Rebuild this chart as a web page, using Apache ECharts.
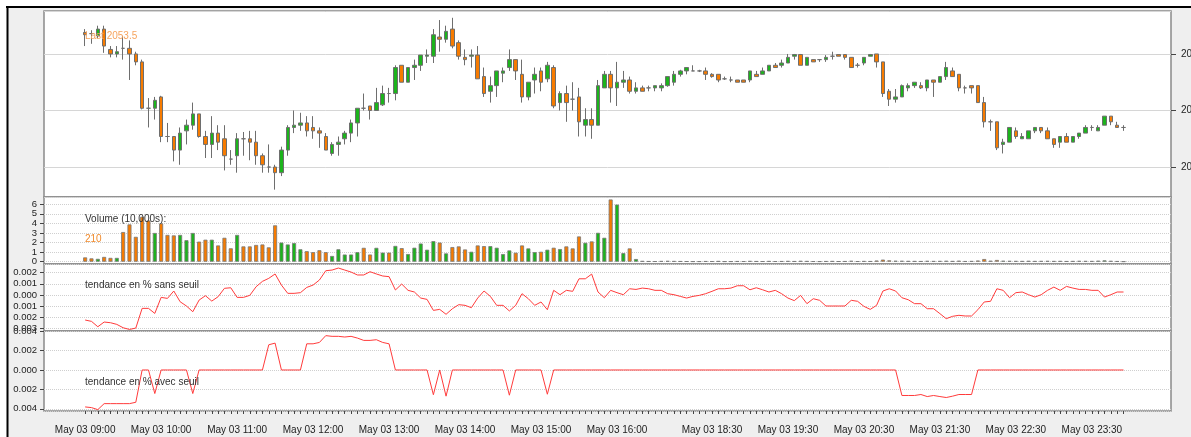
<!DOCTYPE html>
<html lang="fr">
<head>
    <meta charset="UTF-8">
    <title>chart</title>
    <script type="text/javascript" src="https://cdn.jsdelivr.net/npm/echarts@6/dist/echarts.min.js"></script>
    <style>
        html, body { margin: 0; padding: 0; background: #fff; }
        #main { width: 1191px; height: 437px; }
    </style>
</head>
<body>
<div id="main"></div>
<script type="text/javascript">
    // séances : [début, nombre de barres de 5 minutes]
    const sessions = [['09:00', 88], ['17:35', 77]];

    const tickLabels = ['May 03 09:00', 'May 03 10:00', 'May 03 11:00', 'May 03 12:00', 'May 03 13:00',
        'May 03 14:00', 'May 03 15:00', 'May 03 16:00', 'May 03 18:30', 'May 03 19:30',
        'May 03 20:30', 'May 03 21:30', 'May 03 22:30', 'May 03 23:30'];

    // [open, close, low, high]
    const candles = [
        [2061.9, 2061.7, 2060.7, 2062.2], [2061.8, 2061.8, 2060.9, 2062.1], [2061.6, 2062.2, 2061.4, 2062.5], [2062.2, 2060.7, 2060.1, 2062.5], [2060.4, 2060.0, 2059.7, 2060.7],
        [2060.0, 2060.2, 2059.7, 2060.7], [2060.5, 2060.5, 2059.5, 2061.6], [2060.5, 2060.0, 2057.7, 2061.2], [2060.0, 2059.3, 2059.0, 2060.2], [2059.3, 2055.2, 2055.1, 2059.5],
        [2055.2, 2055.2, 2053.5, 2056.1], [2055.2, 2055.9, 2054.2, 2056.2], [2056.2, 2052.7, 2052.2, 2056.3], [2052.7, 2052.7, 2052.2, 2053.9], [2052.7, 2051.5, 2050.5, 2052.7],
        [2051.5, 2053.0, 2050.2, 2053.5], [2053.2, 2053.7, 2052.0, 2054.2], [2053.7, 2054.7, 2053.3, 2055.7], [2054.7, 2052.7, 2052.6, 2054.7], [2052.7, 2052.0, 2050.8, 2053.2],
        [2052.0, 2053.0, 2050.8, 2054.5], [2053.0, 2052.2, 2051.5, 2053.7], [2052.5, 2051.0, 2049.7, 2053.7], [2050.7, 2050.7, 2050.2, 2051.5], [2051.0, 2052.5, 2049.5, 2053.0],
        [2052.5, 2052.5, 2051.0, 2053.1], [2052.5, 2052.2, 2050.6, 2053.2], [2052.2, 2051.0, 2050.2, 2053.2], [2051.0, 2050.2, 2049.5, 2051.2], [2050.0, 2050.0, 2049.5, 2052.0],
        [2050.0, 2049.5, 2048.0, 2050.2], [2049.5, 2051.5, 2049.2, 2051.8], [2051.5, 2053.5, 2051.0, 2053.7], [2053.5, 2053.7, 2053.0, 2055.0], [2053.7, 2053.9, 2053.2, 2054.8],
        [2053.9, 2053.2, 2052.7, 2054.5], [2053.5, 2053.2, 2052.5, 2054.5], [2053.2, 2053.0, 2051.7, 2053.5], [2052.7, 2051.5, 2051.5, 2053.0], [2051.2, 2052.0, 2051.0, 2052.2],
        [2052.0, 2052.2, 2051.0, 2052.7], [2052.5, 2053.0, 2052.0, 2053.2], [2053.0, 2053.9, 2052.2, 2054.2], [2053.9, 2055.2, 2052.7, 2055.2], [2055.2, 2055.2, 2055.0, 2056.5],
        [2055.4, 2055.0, 2054.2, 2055.4], [2055.0, 2055.7, 2055.0, 2057.0], [2055.5, 2056.5, 2055.4, 2057.2], [2056.5, 2056.5, 2055.7, 2057.0], [2056.5, 2058.8, 2055.9, 2059.0],
        [2059.0, 2057.5, 2057.5, 2059.0], [2057.5, 2058.8, 2057.5, 2058.8], [2058.8, 2059.0, 2057.7, 2059.5], [2059.0, 2059.9, 2058.5, 2059.9], [2059.8, 2059.9, 2059.2, 2060.4],
        [2059.8, 2061.7, 2059.2, 2062.2], [2061.5, 2061.3, 2060.2, 2063.0], [2061.3, 2062.0, 2061.0, 2062.5], [2062.2, 2060.7, 2060.5, 2063.2], [2061.0, 2059.8, 2059.5, 2061.2],
        [2059.7, 2059.5, 2059.0, 2060.4], [2059.8, 2059.9, 2058.8, 2060.4], [2059.9, 2057.8, 2057.8, 2060.7], [2058.0, 2056.5, 2056.2, 2058.8], [2056.7, 2057.2, 2055.7, 2058.0],
        [2057.2, 2058.5, 2056.2, 2058.5], [2058.3, 2058.5, 2057.5, 2058.8], [2058.8, 2059.5, 2058.5, 2060.4], [2059.5, 2058.5, 2057.7, 2059.5], [2058.2, 2056.2, 2055.7, 2059.5],
        [2056.2, 2057.5, 2055.9, 2057.5], [2057.7, 2058.2, 2056.5, 2058.8], [2058.5, 2057.5, 2056.7, 2058.8], [2057.8, 2059.0, 2057.5, 2059.3], [2058.8, 2055.4, 2055.2, 2059.0],
        [2055.7, 2056.5, 2055.0, 2056.7], [2056.5, 2055.7, 2054.0, 2057.2], [2056.0, 2056.0, 2055.0, 2057.5], [2056.2, 2054.0, 2052.7, 2057.0], [2053.7, 2054.2, 2052.7, 2055.2],
        [2054.2, 2053.7, 2052.5, 2055.2], [2053.7, 2057.2, 2053.7, 2057.7], [2057.0, 2058.2, 2057.0, 2058.5], [2058.2, 2057.0, 2055.7, 2058.5], [2057.0, 2057.5, 2055.4, 2059.3],
        [2057.5, 2057.7, 2057.0, 2058.5], [2057.7, 2056.7, 2056.5, 2058.0], [2056.7, 2057.0, 2056.5, 2057.5], [2057.0, 2056.7, 2056.7, 2057.2], [2057.0, 2057.0, 2056.7, 2057.2],
        [2057.0, 2057.2, 2056.7, 2057.2], [2057.0, 2057.2, 2056.7, 2057.4], [2057.2, 2058.0, 2057.1, 2058.0], [2057.5, 2058.2, 2057.2, 2058.5], [2058.2, 2058.5, 2058.0, 2058.6],
        [2058.5, 2058.8, 2058.2, 2058.8], [2058.5, 2058.5, 2058.5, 2059.0], [2058.5, 2058.5, 2058.4, 2058.6], [2058.5, 2058.2, 2057.7, 2058.8], [2058.2, 2058.0, 2057.9, 2058.3],
        [2058.2, 2057.7, 2057.5, 2058.2], [2057.8, 2057.8, 2057.7, 2058.0], [2057.7, 2057.7, 2057.5, 2058.0], [2057.7, 2057.5, 2057.5, 2057.7], [2057.7, 2057.5, 2057.5, 2057.7],
        [2057.7, 2058.5, 2057.5, 2058.5], [2058.2, 2058.0, 2058.0, 2058.5], [2058.2, 2058.5, 2058.2, 2058.8], [2058.5, 2059.0, 2058.5, 2059.0], [2059.0, 2058.8, 2058.8, 2059.2],
        [2059.0, 2059.2, 2058.8, 2059.5], [2059.2, 2059.7, 2059.2, 2060.0], [2059.8, 2059.95, 2059.5, 2060.0], [2059.95, 2059.0, 2059.0, 2060.0], [2059.0, 2059.7, 2059.0, 2059.7],
        [2059.5, 2059.3, 2059.3, 2059.5], [2059.5, 2059.5, 2059.3, 2059.5], [2059.5, 2059.7, 2059.3, 2059.9], [2059.8, 2059.8, 2059.5, 2060.2], [2059.95, 2059.8, 2059.8, 2059.95],
        [2059.95, 2059.7, 2059.5, 2059.95], [2059.7, 2058.8, 2058.8, 2059.7], [2059.0, 2059.0, 2058.8, 2059.2], [2059.2, 2059.7, 2059.0, 2059.7], [2059.8, 2059.95, 2059.8, 2060.0],
        [2060.0, 2059.3, 2058.8, 2060.0], [2059.3, 2056.5, 2056.2, 2059.3], [2056.7, 2056.0, 2055.4, 2056.9], [2056.0, 2056.2, 2055.7, 2056.9], [2056.2, 2057.2, 2056.2, 2057.3],
        [2057.0, 2057.2, 2056.7, 2057.4], [2057.2, 2057.5, 2057.0, 2057.5], [2057.2, 2057.0, 2056.9, 2057.5], [2057.0, 2057.7, 2056.7, 2057.7], [2057.7, 2057.5, 2056.2, 2057.7],
        [2057.5, 2058.0, 2057.5, 2058.0], [2058.0, 2058.8, 2057.7, 2059.3], [2058.5, 2058.0, 2058.0, 2058.8], [2058.2, 2057.0, 2056.7, 2058.2], [2057.0, 2057.0, 2056.5, 2057.2],
        [2057.2, 2057.0, 2056.5, 2057.2], [2057.2, 2055.7, 2055.7, 2057.2], [2055.7, 2054.0, 2053.5, 2056.2], [2054.0, 2054.0, 2053.2, 2054.2], [2054.0, 2051.7, 2051.5, 2054.0],
        [2052.0, 2052.2, 2051.2, 2052.5], [2052.2, 2053.5, 2052.2, 2053.5], [2053.2, 2052.7, 2052.5, 2053.5], [2052.5, 2052.7, 2052.5, 2053.0], [2052.5, 2053.2, 2052.5, 2053.2],
        [2053.2, 2053.5, 2053.0, 2053.5], [2053.5, 2053.2, 2053.0, 2053.5], [2053.2, 2052.5, 2052.5, 2053.5], [2052.5, 2052.0, 2051.7, 2052.5], [2052.2, 2052.7, 2051.7, 2052.7],
        [2052.7, 2052.2, 2052.2, 2053.0], [2052.2, 2052.7, 2052.2, 2052.7], [2052.7, 2053.0, 2052.5, 2053.0], [2053.0, 2053.5, 2053.0, 2053.7], [2053.5, 2053.5, 2053.2, 2053.7],
        [2053.2, 2053.5, 2053.2, 2053.7], [2053.7, 2054.5, 2053.7, 2054.5], [2054.5, 2054.0, 2053.7, 2054.5], [2053.7, 2053.5, 2053.5, 2054.0], [2053.5, 2053.5, 2053.2, 2053.7]
    ];

    // volume en 10 000
    const volume = [
        0.45, 0.35, 0.3, 0.5, 0.4, 0.4, 3.1, 3.9, 2.6, 4.7,
        4.3, 3.0, 4.0, 2.8, 2.75, 2.8, 2.25, 3.0, 2.1, 2.3,
        2.3, 1.7, 2.5, 1.4, 2.8, 1.6, 1.6, 1.75, 1.8, 1.5,
        3.8, 2.0, 1.8, 1.95, 1.3, 1.1, 1.0, 1.2, 1.0, 0.6,
        1.3, 0.75, 0.75, 1.0, 1.45, 0.75, 1.45, 0.95, 0.95, 1.65,
        1.42, 0.8, 1.46, 1.9, 1.25, 2.15, 2.0, 0.87, 1.53, 1.6,
        1.28, 1.04, 1.7, 1.63, 1.63, 1.46, 0.8, 1.18, 0.94, 1.7,
        1.39, 1.0, 1.04, 1.25, 1.46, 1.32, 1.6, 1.39, 2.64, 1.98,
        2.12, 3.02, 2.5, 6.5, 5.97, 0.9, 1.39, 0.28, 0.07, 0.05,
        0.04, 0.06, 0.08, 0.06, 0.05, 0.04, 0.03, 0.03, 0.05, 0.04,
        0.06, 0.03, 0.03, 0.05, 0.04, 0.07, 0.05, 0.04, 0.06, 0.04,
        0.05, 0.07, 0.05, 0.08, 0.06, 0.04, 0.03, 0.05, 0.06, 0.04,
        0.05, 0.09, 0.04, 0.06, 0.05, 0.12, 0.22, 0.14, 0.1, 0.09,
        0.07, 0.06, 0.05, 0.08, 0.06, 0.07, 0.09, 0.06, 0.1, 0.05,
        0.06, 0.12, 0.28, 0.1, 0.18, 0.1, 0.08, 0.07, 0.06, 0.08,
        0.06, 0.07, 0.08, 0.06, 0.07, 0.05, 0.06, 0.08, 0.07, 0.06,
        0.1, 0.14, 0.08, 0.05, 0.021
    ];

    const trendSansSeuil = [
        -0.00223, -0.00235, -0.00283, -0.00241, -0.00247, -0.00262, -0.00292, -0.00307, -0.00295, -0.00119,
        -0.00119, -0.00164, -0.00021, -0.0003, 0.00036, -0.0006, -0.00098, -0.00149, -0.00045, -0.00006,
        -0.00054, -0.00015, 0.0006, 0.00065, -0.00021, -0.00021, -0.00003, 0.00074, 0.00122, 0.00149,
        0.00188, 0.00089, 0.00015, 0.00015, 0.00021, 0.00068, 0.00089, 0.00134, 0.00217, 0.00223,
        0.00241, 0.00223, 0.00205, 0.00179, 0.00179, 0.00208, 0.00188, 0.0017, 0.00164, 0.00045,
        0.00098, 0.00042, 0.00027, -0.00027, -0.00039, -0.00137, -0.00128, -0.00172, -0.00122, -0.00086,
        -0.00092, -0.00113, -0.00027, 0.00036, -0.00012, -0.00092, -0.00092, -0.00142, -0.00092, 0.00012,
        -0.00033, -0.00092, -0.00062, -0.00131, 0.00042, 0.00003, 0.00042, 0.00033, 0.00145, 0.00145,
        0.00187, 0.00027, -0.00024, 0.00042, 0.00021, 0.00003, 0.00056, 0.0005, 0.00062, 0.00056,
        0.00042, 0.00042, 0.00012, 0.00003, -0.00012, -0.00027, -0.00012, -0.00003, 0.00012, 0.00033,
        0.00056, 0.00056, 0.00062, 0.00083, 0.00083, 0.00047, 0.00065, 0.00047, 0.00027, 0.00042,
        0.00012, -0.00027, -0.0005, -0.00003, -0.00077, -0.00033, -0.00047, -0.00098, -0.00098, -0.00098,
        -0.00098, -0.00047, -0.00056, -0.00101, -0.00128, -0.00092, 0.00036, 0.00056, 0.00036, -0.00024,
        -0.00042, -0.00077, -0.00077, -0.00122, -0.00122, -0.00166, -0.00211, -0.0019, -0.00181, -0.00187,
        -0.00187, -0.00131, -0.00062, -0.00056, 0.00056, 0.00042, -0.00024, 0.00021, 0.00027, 0.00003,
        -0.00018, 0.00003, 0.00042, 0.00071, 0.00042, 0.00077, 0.00062, 0.0005, 0.0005, 0.00042,
        0.00042, -0.00018, 0.00003, 0.00027, 0.00027
    ];

    const trendAvecSeuil = [
        -0.00381, -0.00388, -0.00409, -0.00347, -0.00347, -0.00347, -0.00347, -0.00347, -0.00333, 0,
        0, -0.00243, 0, 0, 0, 0, 0, -0.00243, 0, 0,
        0, 0, 0, 0, 0, 0, 0, 0, 0, 0.0026,
        0.00277, 0, 0, 0, 0, 0.0027, 0.0027, 0.00284, 0.00354, 0.00347,
        0.00347, 0.0034, 0.00347, 0.00329, 0.00305, 0.00305, 0.00312, 0.00284, 0.0027, 0,
        0, 0, 0, 0, 0, -0.00255, 0, -0.0027, 0, 0,
        0, 0, 0, 0, 0, 0, 0, -0.0026, 0, 0,
        0, 0, 0, -0.0025, 0, 0, 0, 0, 0, 0,
        0, 0, 0, 0, 0, 0, 0, 0, 0, 0,
        0, 0, 0, 0, 0, 0, 0, 0, 0, 0,
        0, 0, 0, 0, 0, 0, 0, 0, 0, 0,
        0, 0, 0, 0, 0, 0, 0, 0, 0, 0,
        0, 0, 0, 0, 0, 0, 0, 0, 0, -0.00263,
        -0.00263, -0.00263, -0.00253, -0.00274, -0.00263, -0.00274, -0.00284, -0.0027, -0.00253, -0.00253,
        -0.00253, 0, 0, 0, 0, 0, 0, 0, 0, 0,
        0, 0, 0, 0, 0, 0, 0, 0, 0, 0,
        0, 0, 0, 0, 0
    ];

    const UP = '#1cb41c';
    const DOWN = '#f77b00';
    const PAD_LEFT = 6;
    const PAD_RIGHT = 7;

    function buildTimes() {
        let out = [];
        sessions.forEach(function (s) {
            let parts = s[0].split(':');
            let m = +parts[0] * 60 + +parts[1];
            for (let k = 0; k < s[1]; k++, m += 5) {
                out.push('May 03 ' + String(Math.floor(m / 60)).padStart(2, '0') + ':' + String(m % 60).padStart(2, '0'));
            }
        });
        return out;
    }

    const times = buildTimes();
    const xData = new Array(PAD_LEFT).fill('').concat(times, new Array(PAD_RIGHT).fill(''));

    function xAxisFor(grid, withLabels) {
        return {
            type: 'category',
            gridIndex: grid,
            position: 'bottom',
            data: xData,
            axisLine: {show: false, onZero: false},
            axisTick: {
                show: withLabels,
                alignWithLabel: true,
                length: 3,
                interval: (idx, val) => val !== '',
                lineStyle: {color: '#444'}
            },
            axisLabel: {
                show: withLabels,
                interval: (idx, val) => tickLabels.indexOf(val) >= 0,
                fontSize: 10,
                color: '#222',
                margin: 14
            },
            splitLine: {show: false}
        };
    }

    function leftAxis(grid, min, max, split, fmt) {
        return {
            type: 'value',
            gridIndex: grid,
            min: min,
            max: max,
            splitNumber: split,
            axisLine: {show: false, onZero: false},
            axisTick: {show: true, length: 4, lineStyle: {color: '#444'}},
            axisLabel: {
                fontSize: 9.5,
                color: '#222',
                margin: 7,
                showMinLabel: false,
                showMaxLabel: false,
                formatter: fmt
            },
            splitLine: {lineStyle: {color: '#cfcfcf', type: 'dotted'}}
        };
    }

    const gridBase = {
        left: 44, right: 20, show: true, backgroundColor: '#fff',
        borderColor: '#8a8a8a', borderWidth: 1.5, outerBoundsMode: 'none', containLabel: false
    };
    const absFmt = v => Math.abs(v).toFixed(3);
    const last = candles.length - 1;

    let option = {
        animation: false,
        backgroundColor: '#efefef',
        textStyle: {fontFamily: 'Liberation Sans, Arial, sans-serif'},
        grid: [
            Object.assign({top: 11, height: 186}, gridBase),
            Object.assign({top: 197, height: 67}, gridBase),
            Object.assign({top: 264, height: 67}, gridBase),
            Object.assign({top: 331, height: 80}, gridBase)
        ],
        xAxis: [xAxisFor(0, false), xAxisFor(1, false), xAxisFor(2, false), xAxisFor(3, true)],
        yAxis: [
            {
                type: 'value',
                gridIndex: 0,
                position: 'right',
                min: 2047.35,
                max: 2063.8,
                splitNumber: 3,
                axisLine: {show: false, onZero: false},
                axisTick: {show: true, length: 5, lineStyle: {color: '#444'}},
                axisLabel: {
                    fontSize: 10, color: '#222', margin: 10,
                    showMinLabel: false, showMaxLabel: false,
                    formatter: v => String(v)
                },
                splitLine: {lineStyle: {color: '#d6d6d6'}}
            },
            leftAxis(1, -0.24, 6.76, 7, v => String(v)),
            leftAxis(2, -0.00321, 0.00277, 6, absFmt),
            leftAxis(3, -0.00423, 0.00402, 4, absFmt)
        ],
        graphic: [
            {type: 'rect', shape: {x: 0, y: 0, width: 1191, height: 6}, style: {fill: '#fff'}},
            {type: 'rect', shape: {x: 0, y: 0, width: 7, height: 437}, style: {fill: '#fff'}},
            {type: 'line', shape: {x1: 6, y1: 7, x2: 1191, y2: 7}, style: {stroke: '#000', lineWidth: 2}},
            {type: 'line', shape: {x1: 7.5, y1: 6, x2: 7.5, y2: 437}, style: {stroke: '#000', lineWidth: 2}},
            {type: 'text', x: 85, y: 36, z: 100, style: {text: 'Last ' + candles[last][1], fill: '#f6a45e', fontSize: 10, verticalAlign: 'middle'}},
            {type: 'text', x: 85, y: 219, z: 100, style: {text: 'Volume (10,000s):', fill: '#333', fontSize: 10, verticalAlign: 'middle'}},
            {type: 'text', x: 85, y: 239.5, z: 100, style: {text: String(Math.round(volume[last] * 10000)), fill: '#f08a2c', fontSize: 10, verticalAlign: 'middle'}},
            {type: 'text', x: 85, y: 285.5, z: 100, style: {text: 'tendance en % sans seuil', fill: '#333', fontSize: 10, verticalAlign: 'middle'}},
            {type: 'text', x: 85, y: 382.5, z: 100, style: {text: 'tendance en % avec seuil', fill: '#333', fontSize: 10, verticalAlign: 'middle'}}
        ],
        series: [
            {
                type: 'candlestick',
                xAxisIndex: 0,
                yAxisIndex: 0,
                barWidth: 4,
                encode: {x: 0, y: [1, 2, 3, 4]},
                itemStyle: {color: UP, color0: DOWN, borderColor: '#6e6e6e', borderColor0: '#6e6e6e', borderWidth: 1},
                data: candles.map((c, i) => [i + PAD_LEFT, c[0], c[1], c[2], c[3]])
            },
            {
                type: 'bar',
                xAxisIndex: 1,
                yAxisIndex: 1,
                barWidth: 4,
                itemStyle: {borderColor: '#777', borderWidth: 0.8},
                data: volume.map((v, i) => ({
                    value: [i + PAD_LEFT, v],
                    itemStyle: {color: candles[i][1] > candles[i][0] ? UP : DOWN}
                }))
            },
            {
                type: 'line',
                xAxisIndex: 2,
                yAxisIndex: 2,
                symbol: 'none',
                lineStyle: {color: '#ff3b3b', width: 1},
                data: trendSansSeuil.map((v, i) => [i + PAD_LEFT, v])
            },
            {
                type: 'line',
                xAxisIndex: 3,
                yAxisIndex: 3,
                symbol: 'none',
                lineStyle: {color: '#ff3b3b', width: 1},
                data: trendAvecSeuil.map((v, i) => [i + PAD_LEFT, v])
            }
        ]
    };

    echarts.init(document.getElementById('main')).setOption(option);
</script>
</body>
</html>
